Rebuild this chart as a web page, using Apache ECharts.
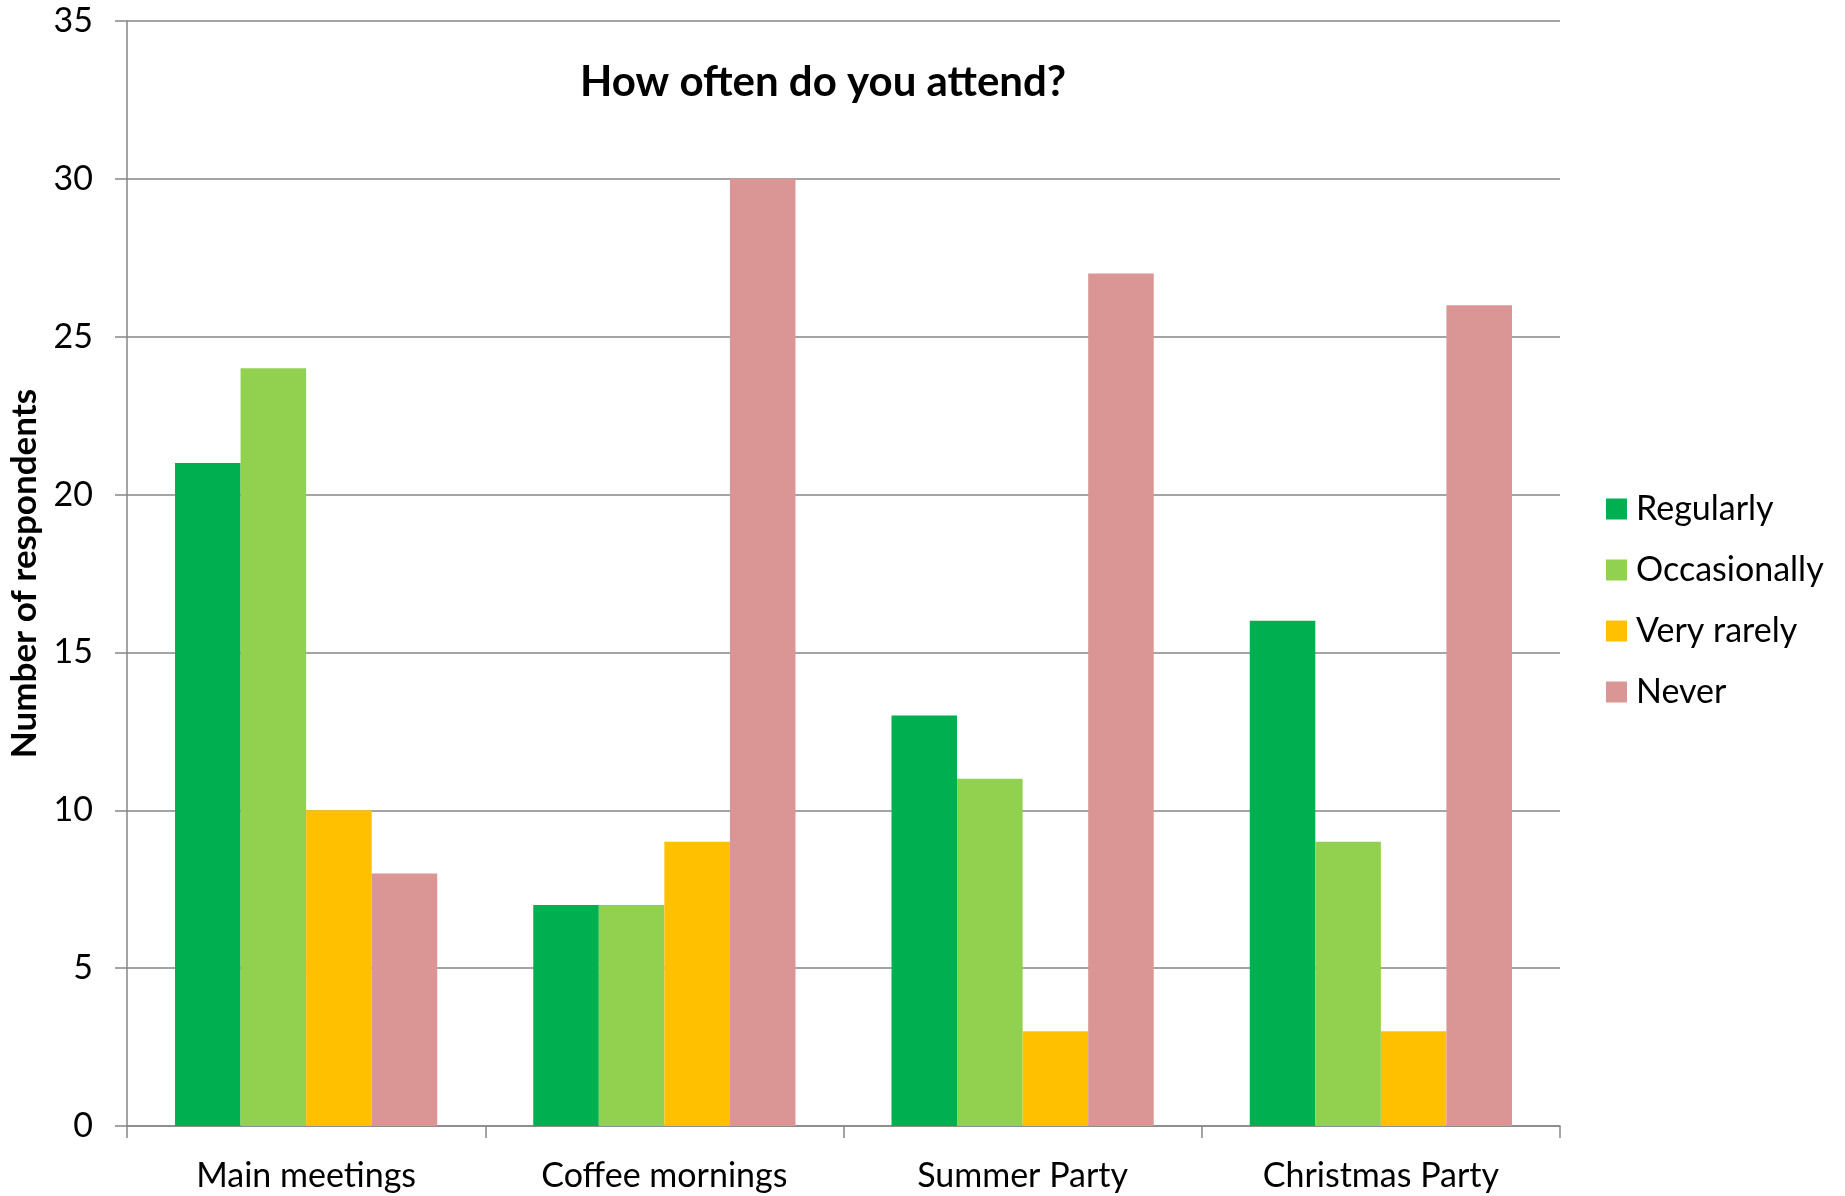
<!DOCTYPE html>
<html>
<head>
<meta charset="utf-8">
<script src="https://cdn.jsdelivr.net/npm/echarts@6/dist/echarts.min.js"></script>
<style>
html,body{margin:0;padding:0;background:#fff;}
#chart{width:1845px;height:1196px;}
</style>
</head>
<body>
<div id="chart"></div>
<script>
const categories = ['Main meetings', 'Coffee mornings', 'Summer Party', 'Christmas Party'];
const seriesNames = ['Regularly', 'Occasionally', 'Very rarely', 'Never'];
const regularly = [21, 7, 13, 16];
const occasionally = [24, 7, 11, 9];
const veryRarely = [10, 9, 3, 3];
const never = [8, 30, 27, 26];
const colors = ['#00B050', '#92D050', '#FFC000', '#D99694'];
const yTicks = { min: 0, max: 35, interval: 5 };

const FONT = 'Lato';
const seriesData = [regularly, occasionally, veryRarely, never];

const chart = echarts.init(document.getElementById('chart'));
chart.setOption({
  animation: false,
  backgroundColor: '#ffffff',
  textStyle: { fontFamily: FONT, color: '#000' },
  title: {
    text: 'How often do you attend?',
    left: 580, top: 61,
    padding: 0,
    textStyle: { fontFamily: FONT, fontWeight: 'bold', fontSize: 42, color: '#000' }
  },
  legend: {
    orient: 'vertical',
    left: 1606, top: 492,
    padding: 0,
    itemWidth: 21, itemHeight: 21, itemGap: 27,
    icon: 'rect',
    textStyle: { fontFamily: FONT, fontSize: 34, color: '#000', lineHeight: 34, padding: [0,0,0,4] },
    data: seriesNames
  },
  grid: { left: 127, top: 21, width: 1433, height: 1105, containLabel: false, outerBoundsMode: 'none' },
  xAxis: {
    type: 'category',
    data: categories,
    axisLine: { show: true, lineStyle: { color: '#868686', width: 1.5 } },
    axisTick: { show: true, length: 12, lineStyle: { color: '#868686', width: 1.5 } },
    axisLabel: { fontFamily: FONT, fontSize: 34, color: '#000', margin: 33 }
  },
  yAxis: {
    type: 'value',
    min: yTicks.min, max: yTicks.max, interval: yTicks.interval,
    name: 'Number of respondents',
    nameLocation: 'middle',
    nameGap: 85,
    nameTextStyle: { fontFamily: FONT, fontSize: 35, fontWeight: 'bold', color: '#000' },
    axisLine: { show: true, lineStyle: { color: '#868686', width: 1.5 } },
    axisTick: { show: true, length: 12, lineStyle: { color: '#868686', width: 1.5 } },
    splitLine: { show: true, lineStyle: { color: '#868686', width: 1.5 } },
    axisLabel: { fontFamily: FONT, fontSize: 34, color: '#000', margin: 34 }
  },
  series: seriesNames.map((n, i) => ({
    name: n,
    type: 'bar',
    data: seriesData[i],
    itemStyle: { color: colors[i] },
    barGap: '0%',
    barCategoryGap: '26.8%'
  }))
});
</script>
</body>
</html>
